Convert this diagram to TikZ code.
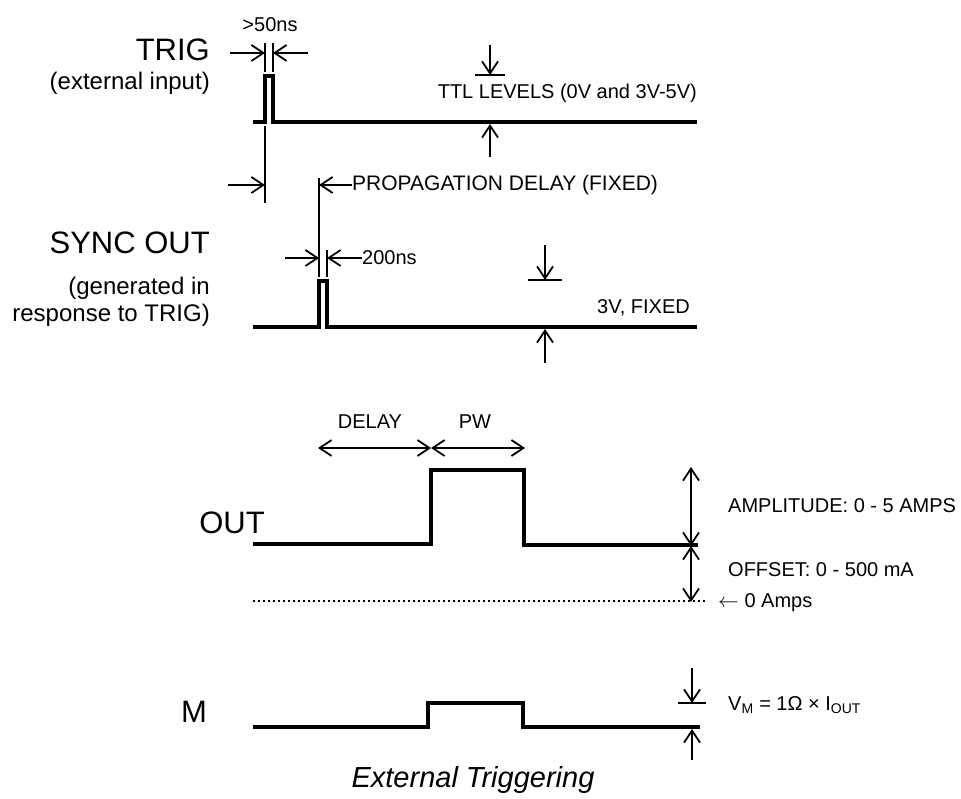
\documentclass[tikz,border=0pt]{standalone}
\usepackage{fontspec}
\setmainfont{Liberation Sans}
\usetikzlibrary{arrows.meta}
\newcommand{\sigfont}{\fontsize{31}{36}\selectfont}
\newcommand{\notefont}{\fontsize{24}{28}\selectfont}
\newcommand{\dimfont}{\fontsize{20}{24}\selectfont}

\begin{document}
\begin{tikzpicture}[x=1pt,y=-1pt,
   wave/.style={line width=4pt,line join=miter},
   dimline/.style={line width=1.8pt},
   arr/.style={dimline,-{Straight Barb[length=12pt,width=16pt]}},
   darr/.style={dimline,{Straight Barb[length=12pt,width=16pt]}-{Straight Barb[length=12pt,width=16pt]}},
   lbl/.style={inner sep=0pt,font=\dimfont},
   sig/.style={inner sep=0pt,font=\sigfont},
   note/.style={inner sep=0pt,font=\notefont}]
   \useasboundingbox (0,0) rectangle (961,799);
   % TRIG
   \node[sig,anchor=east] (trig) at (210,50) {TRIG};
   \node[note,anchor=east] (trignote) at (210,83) {(external input)};
   \draw[wave] (253,122) -- (265,122) -- (265,76) -- (273,76) -- (273,122) -- (697,122);
   \draw[dimline] (265,43) -- (265,72) (273,43) -- (273,72);
   \draw[arr] (230,53) -- (265,53);
   \draw[arr] (308,53) -- (273,53);
   \node[lbl] (width) at (270,25) {>50ns};
   \node[lbl,anchor=east] (ttl) at (697,93) {TTL LEVELS (0V and 3V-5V)};
   \draw[arr] (490,45) -- (490,75);
   \draw[dimline] (475,75) -- (505,75);
   \draw[arr] (490,157) -- (490,124);
   % propagation delay
   \draw[dimline] (265,126) -- (265,203);
   \draw[arr] (228,185) -- (265,185);
   \draw[dimline] (319,178) -- (319,277);
   \node[lbl,anchor=west,font=\fontsize{21}{24}\selectfont] (prop) at (352,185) {PROPAGATION DELAY (FIXED)};
   \draw[arr] (prop.west) -- (319,185);
   % SYNC OUT
   \node[sig,anchor=east] (sync) at (210,243) {SYNC OUT};
   \node[note,anchor=east] (syncnote1) at (210,288) {(generated in};
   \node[note,anchor=east] (syncnote2) at (210,315) {response to TRIG)};
   \draw[wave] (253,327) -- (319,327) -- (319,281) -- (327,281) -- (327,327) -- (697,327);
   \draw[dimline] (327,250) -- (327,277);
   \draw[arr] (285,258) -- (319,258);
   \node[lbl,anchor=west] (sw) at (362,258) {200ns};
   \draw[arr] (sw.west) -- (327,258);
   \node[lbl,anchor=east] (fixed) at (690,308) {3V, FIXED};
   \draw[arr] (545,245) -- (545,280);
   \draw[dimline] (528,280) -- (562,280);
   \draw[arr] (545,363) -- (545,329);
   % OUT
   \node[sig] (out) at (232,523) {OUT};
   \draw[wave] (253,544) -- (431,544) -- (431,470) -- (524,470) -- (524,545) -- (698,545);
   \draw[darr] (318,448) -- (431,448);
   \draw[darr] (431,448) -- (525,448);
   \node[lbl] (delay) at (370,422) {DELAY};
   \node[lbl] (pw) at (475,422) {PW};
   \draw[darr] (691,467) -- (691,546);
   \draw[darr] (691,546) -- (691,602);
   \draw[line width=1.5pt,dash pattern=on 2pt off 3pt] (253,601) -- (705,601);
   \node[lbl,anchor=west] (amp) at (728,506) {AMPLITUDE: 0 - 5 AMPS};
   \node[lbl,anchor=west] (off) at (728,570) {OFFSET: 0 - 500 mA};
   \node[lbl,anchor=west] (zero) at (718,603) {$\leftarrow$ 0 Amps};
   % M
   \node[sig] (mon) at (194,712) {M};
   \draw[wave] (253,727) -- (428,727) -- (428,703) -- (523,703) -- (523,727) -- (700,727);
   \draw[arr] (692,668) -- (692,703);
   \draw[dimline] (678,703) -- (706,703);
   \draw[arr] (692,760) -- (692,729);
   \node[lbl,anchor=west] (vm) at (728,705) {V\textsubscript{M} = 1Ω × I\textsubscript{OUT}};
   \node[inner sep=0pt,font=\fontsize{29}{34}\selectfont\itshape] (title) at (473,780) {External Triggering};
\end{tikzpicture}
\end{document}
